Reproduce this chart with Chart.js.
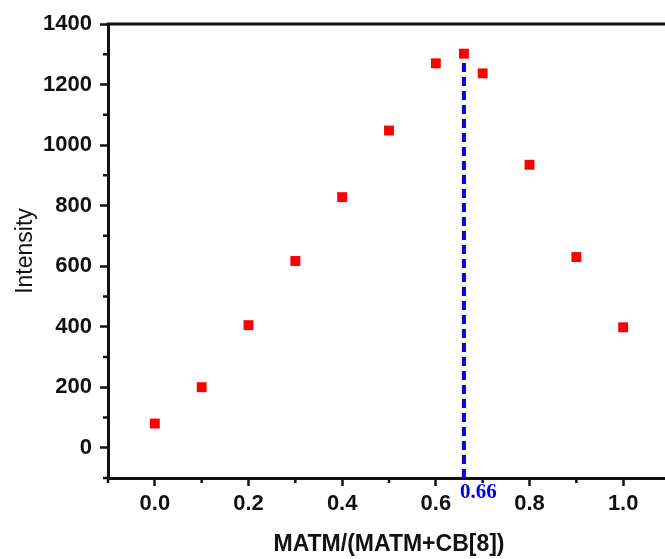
<!DOCTYPE html>
<html lang="en">
<head>
    <meta charset="UTF-8">
    <title>Job plot</title>
    <script src="https://cdn.jsdelivr.net/npm/chart.js"></script>
    <style>
        html, body { margin: 0; padding: 0; background: #fff; overflow: hidden; }
        #wrap { width: 665px; height: 559px; overflow: hidden; }
    </style>
</head>
<body>
    <div id="wrap">
        <canvas id="jobChart" width="700" height="559"></canvas>
    </div>

    <script>
        // data
        const ratios = [0.0, 0.1, 0.2, 0.3, 0.4, 0.5, 0.6, 0.66, 0.7, 0.8, 0.9, 1.0];
        const intensity = [80, 200, 405, 617, 828, 1048, 1270, 1302, 1237, 935, 630, 398];
        const peakRatio = 0.66;
        const peakTop = 1302;
        const xMajor = [0.0, 0.2, 0.4, 0.6, 0.8, 1.0];
        const xMinor = [-0.1, 0.1, 0.3, 0.5, 0.7, 0.9, 1.1];
        const yMajor = [0, 200, 400, 600, 800, 1000, 1200, 1400];
        const yMinor = [-100, 100, 300, 500, 700, 900, 1100, 1300];

        const tickFont = { family: "'Liberation Sans', Arial, sans-serif", size: 22, weight: "bold" };

        // frame lines, minor ticks and the 0.66 label
        const extras = {
            id: "extras",
            afterDraw(chart) {
                const ctx = chart.ctx;
                const a = chart.chartArea;
                const xs = chart.scales.x;
                const ys = chart.scales.y;
                ctx.save();
                ctx.strokeStyle = "#111";
                ctx.lineWidth = 3;
                ctx.beginPath();
                ctx.moveTo(a.left - 1.5, a.top);
                ctx.lineTo(a.right, a.top);
                ctx.lineTo(a.right, a.bottom);
                ctx.stroke();

                ctx.lineWidth = 2.5;
                ctx.beginPath();
                xMinor.forEach(v => {
                    const px = xs.getPixelForValue(v);
                    ctx.moveTo(px, a.bottom);
                    ctx.lineTo(px, a.bottom + 5);
                });
                yMinor.forEach(v => {
                    const py = ys.getPixelForValue(v);
                    ctx.moveTo(a.left, py);
                    ctx.lineTo(a.left - 5, py);
                });
                ctx.stroke();

                ctx.fillStyle = "#0000ee";
                ctx.font = "bold 21px 'Liberation Serif', 'Times New Roman', serif";
                ctx.textAlign = "left";
                ctx.textBaseline = "alphabetic";
                ctx.fillText(peakRatio.toFixed(2), xs.getPixelForValue(peakRatio) - 4, a.bottom + 20);
                ctx.restore();
            }
        };

        new Chart(document.getElementById("jobChart"), {
            type: "scatter",
            data: {
                datasets: [{
                    label: "Intensity",
                    data: ratios.map((r, i) => ({ x: r, y: intensity[i] })),
                    pointStyle: "rect",
                    pointRadius: 7,
                    pointHoverRadius: 7,
                    pointBorderWidth: 0,
                    backgroundColor: "#ff0000",
                    borderColor: "#ff0000"
                }, {
                    type: "line",
                    label: "peak",
                    data: [{ x: peakRatio, y: -100 }, { x: peakRatio, y: peakTop }],
                    borderColor: "#0000ee",
                    borderWidth: 4,
                    borderDash: [9, 5],
                    pointRadius: 0,
                    fill: false
                }]
            },
            options: {
                responsive: false,
                animation: false,
                layout: { padding: { top: 24, left: 0, right: 30, bottom: 0 } },
                plugins: {
                    legend: { display: false },
                    tooltip: { enabled: false }
                },
                scales: {
                    x: {
                        type: "linear",
                        min: -0.1,
                        max: 1.1,
                        afterBuildTicks: s => { s.ticks = xMajor.map(v => ({ value: v })); },
                        afterFit: s => { s.height = 81; },
                        border: { color: "#111", width: 3 },
                        grid: { drawOnChartArea: false, tickLength: 8, tickColor: "#111", tickWidth: 2.5 },
                        ticks: {
                            color: "#111",
                            font: tickFont,
                            padding: 5,
                            maxRotation: 0,
                            callback: v => Number(v).toFixed(1)
                        },
                        title: {
                            display: true,
                            text: "MATM/(MATM+CB[8])",
                            color: "#111",
                            font: { family: "'Liberation Sans', Arial, sans-serif", size: 23, weight: "bold" },
                            padding: { top: 0, bottom: 1 }
                        }
                    },
                    y: {
                        min: -100,
                        max: 1400,
                        afterBuildTicks: s => { s.ticks = yMajor.map(v => ({ value: v })); },
                        afterFit: s => { s.width = 108; },
                        border: { color: "#111", width: 3 },
                        grid: { drawOnChartArea: false, tickLength: 8, tickColor: "#111", tickWidth: 2.5 },
                        ticks: {
                            color: "#111",
                            font: tickFont,
                            padding: 8,
                            callback: v => String(v)
                        },
                        title: {
                            display: true,
                            text: "Intensity",
                            color: "#111",
                            font: { family: "'Liberation Sans', Arial, sans-serif", size: 23, weight: "normal" },
                            padding: { top: 12, bottom: 0 }
                        }
                    }
                }
            },
            plugins: [extras]
        });
    </script>
</body>
</html>
